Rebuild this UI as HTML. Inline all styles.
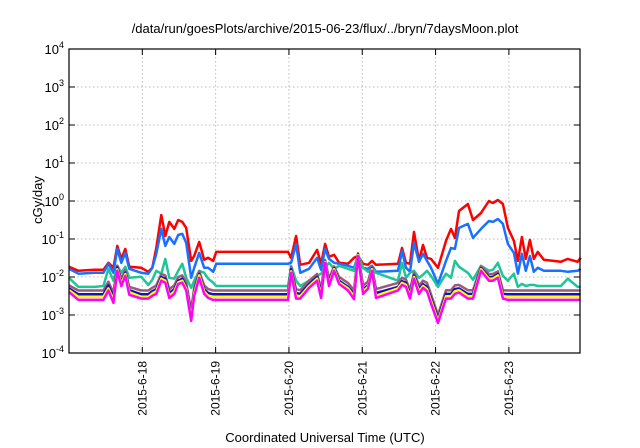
<!DOCTYPE html>
<html><head><meta charset="utf-8"><style>
body{margin:0;background:#fff}
svg{display:block;font-family:"Liberation Sans",sans-serif}
</style></head><body>
<svg id="c" width="640" height="448"></svg>
<script>
const times=[0,.128,.346,.469,.537,.605,.659,.714,.768,.823,.986,1.082,1.136,1.191,1.259,1.313,1.368,1.436,1.490,1.545,1.599,1.667,1.708,1.776,1.844,1.899,1.967,2.008,2.989,3.030,3.098,3.153,3.275,3.384,3.439,3.493,3.547,3.616,3.684,3.806,3.888,3.942,4.011,4.079,4.133,4.188,4.488,4.542,4.597,4.651,4.706,4.774,4.828,4.883,4.937,5.033,5.142,5.210,5.264,5.319,5.441,5.510,5.619,5.728,5.782,5.850,5.918,5.986,6.068,6.123,6.177,6.231,6.286,6.340,6.395,6.476,6.708,6.803,6.939,6.98];
const red=[.0185,.0146,.0155,.0155,.0236,.0175,.066,.030,.055,.0185,.0175,.0137,.0175,.0584,.429,.12,.281,.184,.317,.281,.196,.0266,.036,.084,.0283,.032,.0266,.0459,.0459,.032,.12,.0209,.0236,.0518,.0222,.0744,.034,.0383,.0236,.0222,.032,.036,.0222,.0209,.0266,.0209,.0222,.0584,.0236,.0222,.154,.0266,.0701,.032,.030,.0175,.0892,.184,.107,.547,.834,.317,.484,1.0,.886,1.06,.834,.196,.0892,.0266,.113,.030,.0948,.030,.0459,.0283,.0251,.030,.0251,.032];
const blue=[.0164,.0122,.0129,.0129,.0222,.0129,.055,.0236,.0432,.0164,.0129,.0122,.0175,.0407,.184,.066,.113,.0744,.128,.136,.0791,.0095,.0175,.0432,.0175,.0175,.0137,.0222,.0222,.0236,.0744,.0129,.0164,.032,.0155,.055,.030,.0236,.0222,.0197,.0175,.036,.0175,.0164,.0197,.0137,.0146,.0487,.0175,.0137,.0791,.0251,.0407,.0266,.0175,.0066,.0266,.0584,.055,.196,.249,.107,.184,.298,.281,.337,.249,.0744,.0432,.0122,.0407,.0146,.036,.0137,.0175,.0146,.0146,.0137,.0146,.0164];
const teal=[.0095,.0055,.0055,.0058,.0164,.008,.0197,.0129,.0185,.0095,.0101,.0062,.0085,.0146,.0122,.030,.0095,.009,.0146,.0222,.0095,.0052,.008,.0146,.0129,.009,.0071,.0058,.0058,.0197,.008,.0058,.008,.0107,.0122,.0175,.0236,.0164,.0197,.0164,.0146,.0383,.0175,.0137,.0175,.0129,.008,.0236,.0095,.0129,.0146,.0095,.0114,.0146,.0107,.0055,.0122,.0095,.0266,.0185,.0129,.0085,.0197,.0146,.0155,.0236,.0107,.008,.0122,.0055,.0066,.0058,.0062,.0062,.0058,.0058,.0058,.009,.0055,.0055];
const mauve=[.006,.0044,.0044,.0044,.0075,.0038,.02,.009,.015,.0055,.0044,.0044,.0052,.006,.012,.011,.0048,.006,.01,.011,.007,.0013,.0052,.014,.006,.0048,.0044,.0044,.0044,.018,.0048,.0045,.008,.012,.0048,.028,.009,.019,.01,.007,.0045,.042,.006,.0075,.019,.0048,.007,.0095,.0085,.0045,.013,.006,.008,.007,.0035,.001,.0045,.0045,.006,.0062,.0045,.0045,.019,.012,.012,.014,.0045,.0044,.0044,.0044,.0044,.0044,.0044,.0044,.0044,.0044,.0044,.0044,.0044,.0044];
const navy=[.005,.0035,.0035,.0035,.006,.003,.018,.007,.013,.0045,.0035,.0035,.0042,.0048,.01,.009,.0038,.0048,.008,.009,.0055,.001,.0042,.012,.0048,.0038,.0035,.0035,.0035,.016,.0038,.0036,.0065,.01,.0038,.026,.0075,.017,.008,.0055,.0036,.04,.0048,.006,.017,.0038,.0055,.0078,.007,.0036,.011,.0048,.0065,.0055,.0028,.0008,.0036,.0036,.0048,.005,.0036,.0036,.017,.01,.01,.012,.0036,.0035,.0035,.0035,.0035,.0035,.0035,.0035,.0035,.0035,.0035,.0035,.0035,.0035];
const yellow=[.0045,.003,.003,.003,.005,.0025,.016,.0065,.012,.004,.003,.003,.0037,.0042,.009,.008,.0032,.0042,.0072,.008,.005,.0008,.0037,.011,.0042,.0032,.003,.003,.003,.014,.0032,.0031,.0058,.009,.0032,.025,.0065,.016,.0072,.005,.0031,.038,.0042,.0055,.016,.0032,.005,.007,.0062,.0031,.01,.0042,.0058,.0048,.0024,.0007,.0031,.0031,.0042,.0045,.0031,.0031,.016,.009,.009,.011,.0031,.003,.003,.003,.003,.003,.003,.003,.003,.003,.003,.003,.003,.003];
const magenta=[.004,.0025,.0025,.0025,.0044,.0021,.0146,.0058,.0107,.0034,.0027,.0027,.0032,.0036,.008,.0071,.0028,.0036,.0066,.0071,.0044,.0007,.0032,.0095,.0036,.0028,.0025,.0025,.0025,.0129,.0027,.0027,.0052,.008,.0028,.0236,.0058,.0146,.0066,.0044,.0026,.036,.0036,.0049,.0146,.0028,.0044,.0062,.0055,.0027,.009,.0036,.0052,.0042,.002,.00062,.0027,.0027,.0036,.0039,.0027,.0027,.0146,.008,.008,.0095,.0027,.0025,.0025,.0025,.0025,.0025,.0025,.0025,.0025,.0025,.0025,.0025,.0025,.0025];
const xTickLabels=["2015-6-18","2015-6-19","2015-6-20","2015-6-21","2015-6-22","2015-6-23"];
const xTickDays=[1,2,3,4,5,6];
const yExps=[4,3,2,1,0,-1,-2,-3,-4];

const L=69,R=580,T=49,B=353,days=6.97;
const X=d=>L+d/days*(R-L);
const Y=v=>T+(4-Math.log10(v))/8*(B-T);
const svg=document.getElementById('c');const NS='http://www.w3.org/2000/svg';
function mk(t,a,p){const e=document.createElementNS(NS,t);for(const k in a)e.setAttribute(k,a[k]);(p||svg).appendChild(e);return e;}

yExps.forEach(e=>{const y=Y(Math.pow(10,e));
 if(e<4&&e>-4){const g=mk('line',{x1:L,x2:R,y1:y,y2:y,stroke:'#bbb','stroke-dasharray':'1.5,2.5','stroke-width':1});}
 mk('line',{x1:L,x2:L+6,y1:y,y2:y,stroke:'#000'});mk('line',{x1:R-6,x2:R,y1:y,y2:y,stroke:'#000'});
 const t=mk('text',{x:L-5,y:y+5,'text-anchor':'end','font-size':13});
 
 
 t.textContent='10';const s=mk('tspan',{dy:-6,'font-size':9},t);s.textContent=e;});
xTickDays.forEach((d,i)=>{const x=X(d);
 const g=mk('line',{x1:x,x2:x,y1:T,y2:B,stroke:'#bbb','stroke-dasharray':'1.5,2.5','stroke-width':1});
 
 
 mk('line',{x1:x,x2:x,y1:B,y2:B-6,stroke:'#000'});mk('line',{x1:x,x2:x,y1:T,y2:T+6,stroke:'#000'});
 const t=mk('text',{x:0,y:0,'text-anchor':'end','font-size':12,transform:`translate(${x+4},${B+8}) rotate(-90)`});
 
 
 t.textContent=xTickLabels[i];});
const series=[[red,'#ff0000','red-series'],[blue,'#1a70ff','blue-series'],[teal,'#1ec596','teal-series'],[mauve,'#9a5a7c','mauve-series'],[navy,'#1414b4','navy-series'],[yellow,'#ffff00','yellow-series'],[magenta,'#ff00ff','magenta-series']];
series.forEach(([vals,col,nm])=>{const pts=times.map((t,i)=>X(t).toFixed(1)+','+Y(vals[i]).toFixed(1)).join(' ');
 const p=mk('polyline',{points:pts,fill:'none',stroke:col,'stroke-width':2.5,'stroke-linejoin':'round'});
 
 });
const box=mk('rect',{x:L,y:T,width:R-L,height:B-T,fill:'none',stroke:'#000','stroke-width':1.2});


const ti=mk('text',{x:325,y:33,'text-anchor':'middle','font-size':13});


ti.textContent='/data/run/goesPlots/archive/2015-06-23/flux/../bryn/7daysMoon.plot';
const xt=mk('text',{x:325,y:442,'text-anchor':'middle','font-size':13});


xt.textContent='Coordinated Universal Time (UTC)';
const yt=mk('text',{x:0,y:0,'text-anchor':'middle','font-size':13,transform:'translate(42,200) rotate(-90)'});


yt.textContent='cGy/day';
</script>
</body></html>
